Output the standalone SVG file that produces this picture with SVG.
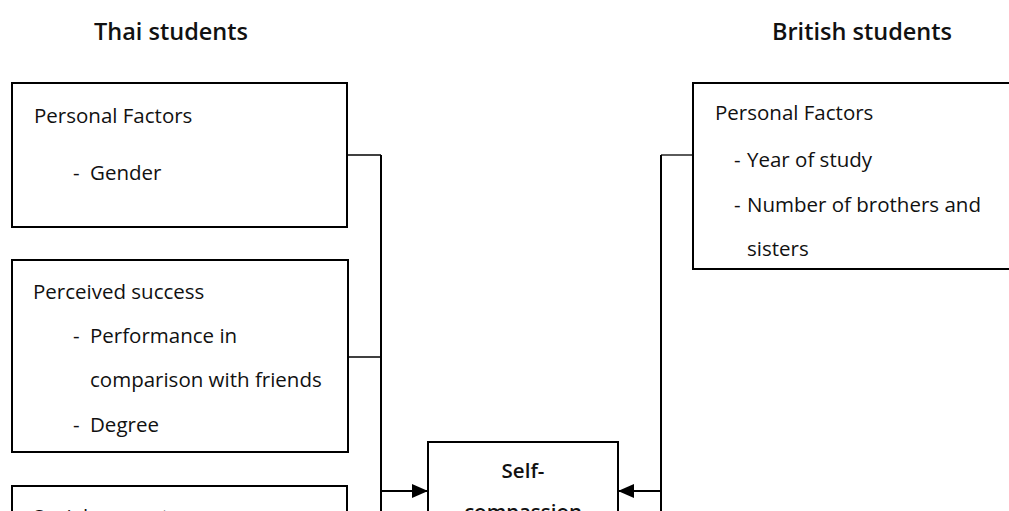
<svg xmlns="http://www.w3.org/2000/svg" width="1009" height="511" viewBox="0 0 1009 511">
  <style>
    .box { fill: #fff; stroke: #000; stroke-width: 2; }
    .txt { font-family: "Open Sans", "Noto Sans", sans-serif; font-size: 20.5px; fill: #111; }
    .title { font-family: "Open Sans", "Noto Sans", sans-serif; font-size: 23.5px; font-weight: 600; fill: #111; text-anchor: middle; }
    .center { font-family: "Open Sans", "Noto Sans", sans-serif; font-size: 20.5px; font-weight: 600; fill: #111; text-anchor: middle; }
    .thin { fill: none; stroke: #000; stroke-width: 1.3; }
    .bus { fill: none; stroke: #000; stroke-width: 2; }
  </style>
  <defs>
    <marker id="arrow" viewBox="0 0 16 14" refX="16" refY="7" markerWidth="16" markerHeight="14" markerUnits="userSpaceOnUse" orient="auto">
      <path d="M0,0 L16,7 L0,14 Z" fill="#000"/>
    </marker>
  </defs>

  <rect width="1009" height="511" fill="#fff"/>

  <!-- column headings -->
  <text class="title" x="171" y="40">Thai students</text>
  <text class="title" x="862" y="40">British students</text>

  <!-- Thai side: personal factors -->
  <g id="thai-personal">
    <rect class="box" x="12" y="83" width="335" height="144"/>
    <text class="txt" x="34" y="123">Personal Factors</text>
    <text class="txt" y="180"><tspan x="73">-</tspan><tspan x="90">Gender</tspan></text>
  </g>

  <!-- Thai side: perceived success -->
  <g id="thai-success">
    <rect class="box" x="12" y="260" width="336" height="192"/>
    <text class="txt" x="33" y="299">Perceived success</text>
    <text class="txt" y="343"><tspan x="73">-</tspan><tspan x="90">Performance in</tspan></text>
    <text class="txt" x="90" y="387">comparison with friends</text>
    <text class="txt" y="432"><tspan x="73">-</tspan><tspan x="90">Degree</tspan></text>
  </g>

  <!-- Thai side: social support (runs off the lower edge) -->
  <g id="thai-social">
    <rect class="box" x="12" y="486" width="335" height="60"/>
    <text class="txt" x="33" y="524">Social support</text>
  </g>

  <!-- outcome -->
  <g id="self-compassion">
    <rect class="box" x="428" y="442" width="190" height="100"/>
    <text class="center" x="523" y="478">Self-</text>
    <text class="center" x="523" y="519">compassion</text>
  </g>

  <!-- British side: personal factors (runs off the right edge) -->
  <g id="british-personal">
    <rect class="box" x="693" y="83" width="330" height="186"/>
    <text class="txt" x="715" y="120">Personal Factors</text>
    <text class="txt" y="167"><tspan x="734">-</tspan><tspan x="747">Year of study</tspan></text>
    <text class="txt" y="212"><tspan x="734">-</tspan><tspan x="747">Number of brothers and</tspan></text>
    <text class="txt" x="747" y="256">sisters</text>
  </g>

  <!-- connectors -->
  <g id="connectors">
    <path class="thin" d="M347,155 H381"/>
    <path class="thin" d="M348,357 H381"/>
    <path class="bus" d="M381,155 V511"/>
    <path class="bus" d="M381,491 H428" marker-end="url(#arrow)"/>
    <path class="thin" d="M693,155 H661"/>
    <path class="bus" d="M661,155 V511"/>
    <path class="bus" d="M661,491 H618" marker-end="url(#arrow)"/>
  </g>
</svg>
